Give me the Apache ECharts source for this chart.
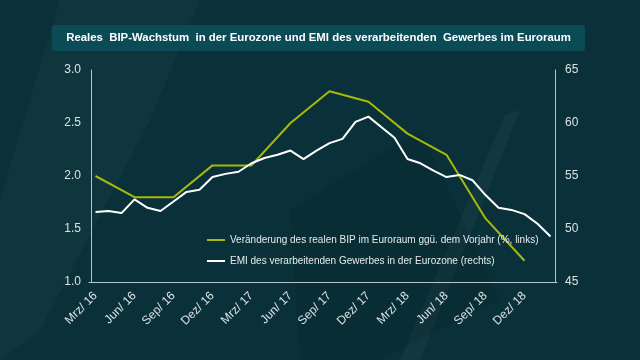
<!DOCTYPE html>
<html>
<head>
<meta charset="utf-8">
<script src="https://cdn.jsdelivr.net/npm/echarts@6/dist/echarts.min.js"></script>
<style>
html,body{margin:0;padding:0;background:#0a3139;}
#c{width:640px;height:360px;}
</style>
</head>
<body>
<div id="c"></div>
<script>
const titleText = 'Reales  BIP-Wachstum  in der Eurozone und EMI des verarbeitenden  Gewerbes im Euroraum';
const categories = ["Mrz/ 16","Apr/ 16","Mai/ 16","Jun/ 16","Jul/ 16","Aug/ 16","Sep/ 16","Okt/ 16","Nov/ 16","Dez/ 16","Jan/ 17","Feb/ 17","Mrz/ 17","Apr/ 17","Mai/ 17","Jun/ 17","Jul/ 17","Aug/ 17","Sep/ 17","Okt/ 17","Nov/ 17","Dez/ 17","Jan/ 18","Feb/ 18","Mrz/ 18","Apr/ 18","Mai/ 18","Jun/ 18","Jul/ 18","Aug/ 18","Sep/ 18","Okt/ 18","Nov/ 18","Dez/ 18","Jan/ 19","Feb/ 19"];
// quarterly GDP growth (%, left axis) at Mrz/Jun/Sep/Dez
const gdpQuarterly = [2.0, 1.8, 1.8, 2.1, 2.1, 2.5, 2.8, 2.7, 2.4, 2.2, 1.6, 1.2];
// monthly manufacturing PMI (right axis)
const emiMonthly = [51.6,51.7,51.5,52.8,52.0,51.7,52.6,53.5,53.7,54.9,55.2,55.4,56.2,56.7,57.0,57.4,56.6,57.4,58.1,58.5,60.1,60.6,59.6,58.6,56.6,56.2,55.5,54.9,55.1,54.6,53.2,52.0,51.8,51.4,50.5,49.3];
const leftTicks = [1.0, 1.5, 2.0, 2.5, 3.0];
const rightTicks = [45, 50, 55, 60, 65];
const gdpName = 'Veränderung des realen BIP im Euroraum ggü. dem Vorjahr (%, links)';
const emiName = 'EMI des verarbeitenden Gewerbes in der Eurozone (rechts)';

const gdpSeries = categories.map((c, i) => (i % 3 === 0 && gdpQuarterly[i / 3] !== undefined) ? gdpQuarterly[i / 3] : null);

const chart = echarts.init(document.getElementById('c'), null, {renderer: 'canvas'});
const axisCol = '#b8c6c8';
const labelCol = '#dce2e3';
const ff = '"Liberation Sans", Arial, sans-serif';
chart.setOption({
  backgroundColor: '#0a3139',
  animation: false,
  graphic: [
    {type: 'polygon', z: -10, silent: true, shape: {points: [[60,0],[200,0],[150,120],[40,330],[0,360],[0,200]]}, style: {fill: 'rgba(255,255,255,0.025)'}},
    {type: 'polygon', z: -10, silent: true, shape: {points: [[290,210],[420,130],[500,300],[380,360],[300,360]]}, style: {fill: 'rgba(0,0,0,0.08)'}},
    {type: 'polygon', z: -10, silent: true, shape: {points: [[505,115],[520,110],[420,360],[400,360]]}, style: {fill: 'rgba(255,255,255,0.03)'}},
    {type: 'rect', z: 0, silent: true, shape: {x: 52, y: 25, width: 533, height: 26, r: 3}, style: {fill: '#0b4b56'}},
    {type: 'text', z: 1, silent: true, x: 318.5, y: 38, style: {text: titleText, fill: '#ffffff', font: 'bold 11.4px ' + ff, align: 'center', verticalAlign: 'middle'}}
  ],
  grid: {left: 89, right: 83, top: 70, bottom: 78},
  legend: {
    orient: 'vertical', left: 202, top: 230, itemWidth: 18, itemHeight: 2, itemGap: 11,
    textStyle: {color: '#e6eaea', fontSize: 10, fontFamily: ff},
    data: [{name: gdpName, icon: 'rect'}, {name: emiName, icon: 'rect'}]
  },
  xAxis: {
    type: 'category', data: categories, boundaryGap: true,
    axisLine: {show: true, lineStyle: {color: axisCol, width: 1}},
    axisTick: {show: false},
    axisLabel: {interval: 2, rotate: 45, color: labelCol, fontSize: 12, margin: 12, fontFamily: ff},
    splitLine: {show: false}
  },
  yAxis: [
    {
      type: 'value', position: 'left', offset: -2,
      min: leftTicks[0], max: leftTicks[leftTicks.length - 1], interval: 0.5,
      axisLine: {show: true, lineStyle: {color: axisCol, width: 1}},
      axisTick: {show: false},
      splitLine: {show: false},
      axisLabel: {color: labelCol, fontSize: 12, margin: 10, fontFamily: ff, formatter: v => v.toFixed(1)}
    },
    {
      type: 'value', position: 'right', offset: -2,
      min: rightTicks[0], max: rightTicks[rightTicks.length - 1], interval: 5,
      axisLine: {show: true, lineStyle: {color: axisCol, width: 1}},
      axisTick: {show: false},
      splitLine: {show: false},
      axisLabel: {color: labelCol, fontSize: 12, margin: 10, fontFamily: ff}
    }
  ],
  series: [
    {
      name: gdpName, type: 'line', yAxisIndex: 0, data: gdpSeries, connectNulls: true,
      symbol: 'none', showSymbol: false, lineStyle: {color: '#a6b90c', width: 2}, itemStyle: {color: '#a6b90c'}, z: 3
    },
    {
      name: emiName, type: 'line', yAxisIndex: 1, data: emiMonthly,
      symbol: 'none', showSymbol: false, lineStyle: {color: '#ffffff', width: 2}, itemStyle: {color: '#ffffff'}, z: 4
    }
  ]
});
</script>
</body>
</html>
